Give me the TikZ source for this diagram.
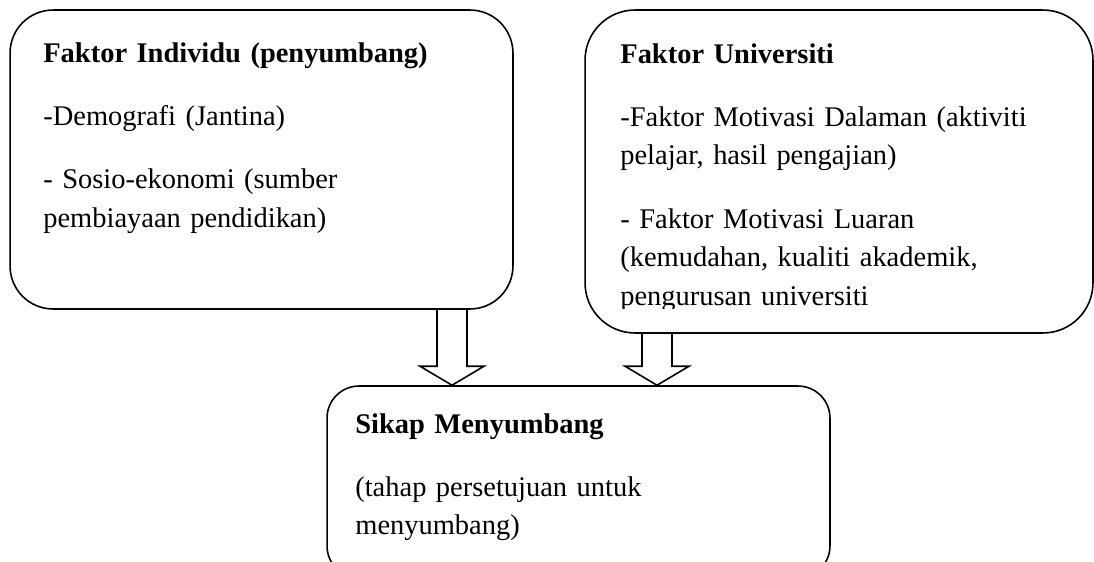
\documentclass[tikz,border=0pt]{standalone}
\usepackage{fontspec}
\setmainfont{Liberation Serif}
\usetikzlibrary{calc}

\tikzset{
  box/.style={draw, line width=0.9pt, rounded corners=#1, inner sep=0pt},
  box/.default=0.9cm,
  txt/.style={anchor=base west, inner sep=0pt, align=left, font=\fontsize{16.2}{22}\selectfont},
  fatline/.style={draw, line width=0.9pt, line join=miter}
}

\begin{document}
\begin{tikzpicture}[x=0.02cm, y=-0.02cm]
    \clip (0,0) rectangle (1094,561);

    % kotak
    \node[box=0.86cm, minimum width=10.06cm, minimum height=5.98cm] (indiv) at (261.5,159.5) {};
    \node[box=1cm, minimum width=10.16cm, minimum height=6.46cm] (univ) at (839,171.5) {};
    \node[box=0.64cm, minimum width=10.06cm, minimum height=3.84cm] (sikap) at (578.5,482) {};

    % teks
    \node[txt, text width=9.2cm] (indivtext) at (43,62) {\textbf{Faktor Individu (penyumbang)}\\[14pt]
        -Demografi (Jantina)\\[14pt]
        - Sosio-ekonomi (sumber\\
        pembiayaan pendidikan)};
    \begin{scope}
        \clip (585,10) rectangle (1093,308); % baris terakhir terpotong
        \node[txt, text width=9.4cm] (univtext) at (620,63) {\textbf{Faktor Universiti}\\[14pt]
            -Faktor Motivasi Dalaman (aktiviti\\
            pelajar, hasil pengajian)\\[14pt]
            - Faktor Motivasi Luaran\\
            (kemudahan, kualiti akademik,\\
            pengurusan universiti};
    \end{scope}
    \node[txt, text width=9.2cm] (sikaptext) at (355,433) {\textbf{Sikap Menyumbang}\\[14pt]
        (tahap persetujuan untuk\\
        menyumbang)};

    % anak panah
    \foreach \src/\x in {indiv/452, univ/657} {
        \coordinate (top) at (\x,0 |- \src.south);
        \coordinate (tip) at (\x,0 |- sikap.north);
        \draw[fatline] ($(top)+(-15,0)$) -- ($(tip)+(-15,-19)$) -- ($(tip)+(-32,-19)$) -- (tip)
            -- ($(tip)+(32,-19)$) -- ($(tip)+(15,-19)$) -- ($(top)+(15,0)$);
    }
\end{tikzpicture}
\end{document}
